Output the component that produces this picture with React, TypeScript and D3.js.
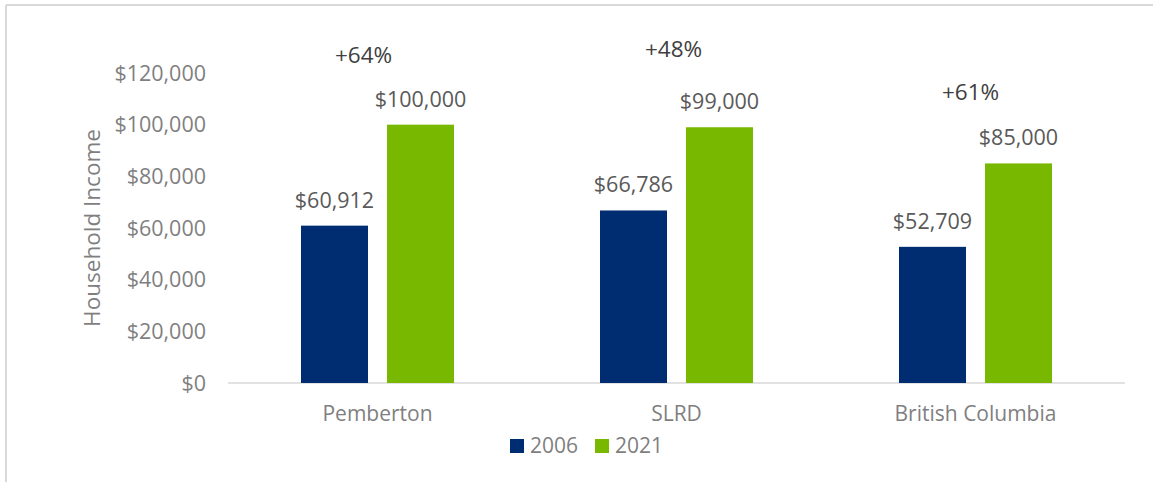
import * as d3 from 'd3';

const categories = ['Pemberton', 'SLRD', 'British Columbia'];
const series = ['2006', '2021'];
const values2006 = [60912, 66786, 52709];
const values2021 = [100000, 99000, 85000];
const yTicks = [0, 20000, 40000, 60000, 80000, 100000, 120000];
// hand-placed change labels: x nudge from group centre, lift above the 2021 label
const pctNudge = [[-14, 44], [-3, 52], [-5, 45]];

const colors = ['#002d72', '#78b800'];
const font = '"Open Sans", "Noto Sans", sans-serif';

export default function App() {
  const width = 1153;
  const height = 482;
  const left = 228;
  const right = 1125;
  const top = 73;
  const bottom = 383;

  const x = d3.scaleBand<string>().domain(categories).range([left, right]);
  const y = d3.scaleLinear().domain([0, 120000]).range([bottom, top]);
  const fmt = (v: number) => '$' + d3.format(',')(v);

  const barW = 67;
  const gap = 19;

  return (
    <svg width={width} height={height} style={{ position: 'absolute', left: 0, top: 0 }}>
      <rect x={0} y={0} width={width} height={height} fill="#fff" />
      <line x1={6} x2={width} y1={5} y2={5} stroke="#d9d9d9" strokeWidth={2} />
      <line x1={6} x2={6} y1={5} y2={height} stroke="#d9d9d9" strokeWidth={2} />

      {yTicks.map(t => (
        <text key={t} x={206} y={y(t)} dy="0.35em" textAnchor="end" fontSize={21.5}
          fill="#7f7f7f" fontFamily={font}>{fmt(t)}</text>
      ))}
      <line x1={left} x2={right} y1={bottom} y2={bottom} stroke="#d9d9d9" strokeWidth={1.5} />

      <text transform={`translate(92,${(top + bottom) / 2}) rotate(-90)`} textAnchor="middle"
        dy="0.35em" fontSize={22.5} fill="#7f7f7f" fontFamily={font}>Household Income</text>

      {categories.map((c, i) => {
        const cx = x(c)! + x.bandwidth() / 2;
        const vals = [values2006[i], values2021[i]];
        const xs = [cx - gap / 2 - barW, cx + gap / 2];
        const pct = Math.round((values2021[i] / values2006[i] - 1) * 100);
        return (
          <g key={c}>
            {vals.map((v, j) => (
              <g key={j}>
                <rect x={xs[j]} y={y(v)} width={barW} height={bottom - y(v)} fill={colors[j]} />
                <text x={xs[j] + barW / 2} y={y(v) - 18} textAnchor="middle" fontSize={21.5}
                  fill="#595959" fontFamily={font}>{fmt(v)}</text>
              </g>
            ))}
            <text x={cx + pctNudge[i][0]} y={y(values2021[i]) - 18 - pctNudge[i][1]} textAnchor="middle"
              fontSize={22.5} fill="#404040" fontFamily={font}>+{pct}%</text>
            <text x={cx} y={414} dy="0.35em" textAnchor="middle" fontSize={21} fill="#7f7f7f"
              fontFamily={font}>{c}</text>
          </g>
        );
      })}

      {series.map((s, i) => (
        <g key={s} transform={`translate(${510 + i * 85},0)`}>
          <rect x={0} y={439} width={14} height={14} fill={colors[i]} />
          <text x={20} y={446} dy="0.35em" fontSize={21} fill="#7f7f7f" fontFamily={font}>{s}</text>
        </g>
      ))}
    </svg>
  );
}
